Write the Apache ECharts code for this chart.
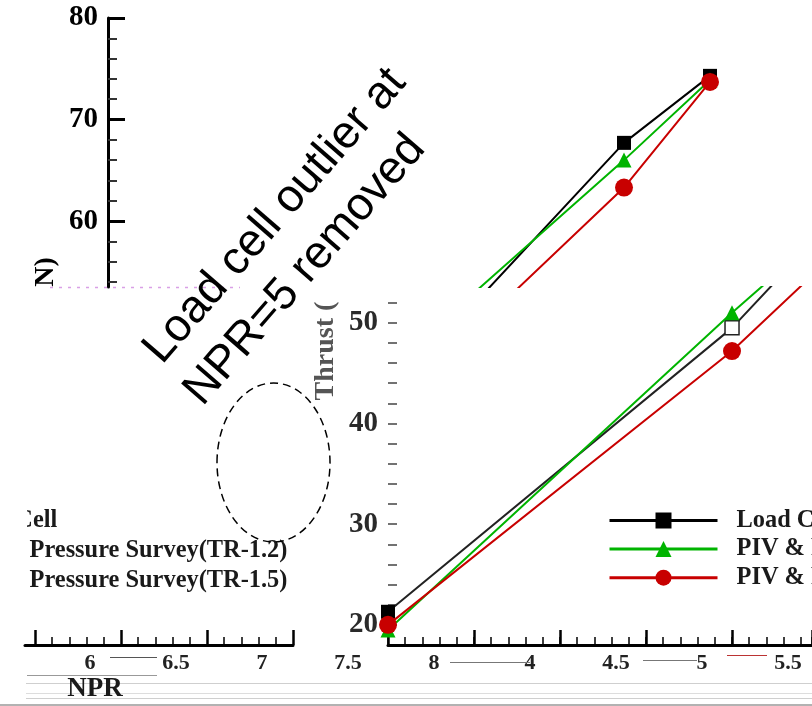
<!DOCTYPE html>
<html><head><meta charset="utf-8">
<script src="https://cdn.jsdelivr.net/npm/echarts@6/dist/echarts.min.js"></script>
<style>html,body{margin:0;padding:0;background:#fff}#c{width:812px;height:706px}</style>
</head><body><div id="c"></div>
<script>
// ---- data ----
const npr = [3, 5, 6, 6.5];
const loadCell = [21.3, 49.5, 67.7, 74.3];
const pivTR12 = [19.5, 51.0, 66.0, 73.9];
const pivTR15 = [20.0, 47.2, 63.3, 73.7];
const seriesNames = ['Load Cell', 'PIV & Pressure Survey(TR-1.2)', 'PIV & Pressure Survey(TR-1.5)'];
const topYLabels = [60, 70, 80];
const topYMinorTicks = [54, 56, 58, 62, 64, 66, 68, 72, 74, 76, 78];
const bottomYLabels = [20, 30, 40, 50];
const bottomYTicks = [20, 22, 24, 26, 28, 30, 32, 34, 36, 38, 40, 42, 44, 46, 48, 50, 52];
const leftXMajor = [6.5, 7, 7.5, 8];
const leftXMinor = [6.6, 6.7, 6.8, 6.9, 7.1, 7.2, 7.3, 7.4, 7.6, 7.7, 7.8, 7.9];
const stripLabelsLeft = [6, 6.5, 7, 7.5, 8];
const stripLabelsRight = [4, 4.5, 5, 5.5];
const annotation = ['Load cell outlier at', 'NPR=5 removed'];

const serif = 'Liberation Serif';
const colors = ['#000000', '#00b400', '#c80000'];
const symbols = ['rect', 'triangle', 'circle'];
const symSizes = [14, 15, 18];
const values = [loadCell, pivTR12, pivTR15];

const chart = echarts.init(document.getElementById('c'), null, {renderer: 'canvas'});

const hidden = {show: false};
function hideAxis(extra) {
  return Object.assign({type: 'value', axisLine: hidden, axisTick: hidden, axisLabel: hidden, splitLine: hidden}, extra);
}

const series = [];
[0, 1].forEach(panel => {
  values.forEach((vals, k) => {
    series.push({
      type: 'line',
      name: seriesNames[k],
      xAxisIndex: panel === 0 ? 0 : 1,
      yAxisIndex: panel === 0 ? 0 : 2,
      clip: true,
      symbol: symbols[k],
      symbolSize: symSizes[k],
      showAllSymbol: true,
      lineStyle: {color: panel === 1 && k === 0 ? '#222' : colors[k], width: 2},
      itemStyle: {color: colors[k]},
      z: 3 + k,
      data: npr.map((x, i) => (panel === 1 && k === 0 && i === 1)
        ? {value: [x, vals[i]], itemStyle: {color: '#fff', borderColor: '#222', borderWidth: 1.5}}
        : [x, vals[i]])
    });
  });
});

const stripLabelStyle = {
  fontFamily: serif, fontWeight: 'bold', fontSize: 22, color: '#222',
  textShadowColor: 'rgba(220,0,0,0.85)', textShadowOffsetX: -1.5, textShadowBlur: 0
};

const legendBase = {
  orient: 'vertical', itemWidth: 108, itemHeight: 20,
  data: seriesNames, selectedMode: false,
  lineStyle: {width: 3},
  textStyle: {fontFamily: serif, fontWeight: 'bold', fontSize: 24.4, color: '#1a1a1a', lineHeight: 20, padding: [0, 0, 0, 14]}
};

function glitchLine(x1, x2, y, color) {
  return {type: 'line', z: 90, shape: {x1: x1, y1: y, x2: x2, y2: y}, style: {stroke: color, lineWidth: 1}};
}

const option = {
  animation: false,
  backgroundColor: '#fff',
  grid: [
    {left: 108, top: 18, width: 704, height: 269},
    {left: 388, top: 287, width: 424, height: 358},
    {left: 25, top: 500, width: 268, height: 145},
    {left: 0, top: 600, width: 470, height: 50},
    {left: 470, top: 600, width: 342, height: 50}
  ],
  xAxis: [
    hideAxis({gridIndex: 0, min: 3, max: 7.093}),
    {type: 'value', gridIndex: 1, position: 'bottom', min: 3, max: 5.465, interval: 0.5,
      axisLine: {show: true, lineStyle: {color: '#000', width: 3}},
      axisTick: {show: true, inside: true, length: 15, lineStyle: {color: '#000', width: 2.5}},
      axisLabel: hidden, splitLine: hidden},
    {type: 'value', gridIndex: 1, position: 'bottom', min: 3, max: 5.465, interval: 0.1,
      axisLine: hidden,
      axisTick: {show: true, inside: true, length: 8, lineStyle: {color: '#000', width: 1.5}},
      axisLabel: hidden, splitLine: hidden},
    {type: 'value', gridIndex: 2, position: 'bottom', min: 6.442, max: 8,
      axisLine: {show: true, lineStyle: {color: '#000', width: 3}},
      axisTick: {show: true, inside: true, length: 15, customValues: leftXMajor, lineStyle: {color: '#000', width: 2.5}},
      axisLabel: hidden, splitLine: hidden},
    {type: 'value', gridIndex: 2, position: 'bottom', min: 6.442, max: 8,
      axisLine: hidden,
      axisTick: {show: true, inside: true, length: 8, customValues: leftXMinor, lineStyle: {color: '#000', width: 1.5}},
      axisLabel: hidden, splitLine: hidden},
    {type: 'value', gridIndex: 3, position: 'bottom', min: 5.477, max: 8.21,
      axisLine: hidden, axisTick: hidden, splitLine: hidden,
      axisLabel: Object.assign({show: true, margin: 2, customValues: stripLabelsLeft}, stripLabelStyle)},
    {type: 'value', gridIndex: 4, position: 'bottom', min: 3.651, max: 5.639,
      axisLine: hidden, axisTick: hidden, splitLine: hidden,
      axisLabel: Object.assign({show: true, margin: 2, customValues: stripLabelsRight}, stripLabelStyle)}
  ],
  yAxis: [
    {type: 'value', gridIndex: 0, position: 'left', min: 53.5, max: 80,
      axisLine: {show: true, lineStyle: {color: '#000', width: 3}},
      axisTick: {show: true, inside: true, length: 17, customValues: topYLabels, lineStyle: {color: '#000', width: 3}},
      axisLabel: {show: true, margin: 10, customValues: topYLabels, fontFamily: serif, fontWeight: 'bold', fontSize: 29, color: '#000'},
      splitLine: hidden},
    {type: 'value', gridIndex: 0, position: 'left', min: 53.5, max: 80,
      axisLine: hidden,
      axisTick: {show: true, inside: true, length: 9, customValues: topYMinorTicks, lineStyle: {color: '#333', width: 2}},
      axisLabel: hidden, splitLine: hidden},
    {type: 'value', gridIndex: 1, position: 'left', min: 18, max: 53.56,
      axisLine: hidden,
      axisTick: {show: true, inside: true, length: 9, customValues: bottomYTicks, lineStyle: {color: '#444', width: 1.5}},
      axisLabel: {show: true, margin: 10, customValues: bottomYLabels, fontFamily: serif, fontWeight: 'bold', fontSize: 29, color: '#2a2a2a'},
      splitLine: hidden},
    hideAxis({gridIndex: 2}),
    hideAxis({gridIndex: 3}),
    hideAxis({gridIndex: 4})
  ],
  legend: [
    Object.assign({left: 603, top: 503.5, itemGap: 4.6}, legendBase),
    Object.assign({left: -178.5, top: 504, itemGap: 6.1}, legendBase)
  ],
  series: series,
  graphic: [
    {type: 'rect', z: 100, shape: {x: 0, y: 500, width: 27, height: 100}, style: {fill: '#fff'}},
    {type: 'text', z: 101, x: 275, y: 216, rotation: 0.855,
      style: {text: annotation[0], fontFamily: 'Liberation Sans', fontSize: 46, fill: '#000', align: 'center', verticalAlign: 'middle'}},
    {type: 'text', z: 101, x: 305, y: 270, rotation: 0.855,
      style: {text: annotation[1], fontFamily: 'Liberation Sans', fontSize: 46, fill: '#000', align: 'center', verticalAlign: 'middle'}},
    {type: 'ellipse', z: 101, shape: {cx: 273.5, cy: 462.5, rx: 56.5, ry: 79.5},
      style: {fill: 'none', stroke: '#000', lineWidth: 1.5, lineDash: [8, 5]}},
    {type: 'text', z: 101, x: 326, y: 351, rotation: Math.PI / 2,
      style: {text: 'Thrust (', fontFamily: serif, fontWeight: 'bold', fontSize: 28, fill: '#555', align: 'center', verticalAlign: 'middle'}},
    {type: 'text', z: 101, x: 46, y: 272, rotation: Math.PI / 2,
      style: {text: 'N)', fontFamily: serif, fontWeight: 'bold', fontSize: 28, fill: '#000', align: 'center', verticalAlign: 'middle'}},
    {type: 'text', z: 101, x: 95, y: 689,
      style: {text: 'NPR', fontFamily: serif, fontWeight: 'bold', fontSize: 27, fill: '#1a1a1a', align: 'center', verticalAlign: 'middle',
        textShadowColor: 'rgba(220,0,0,0.85)', textShadowOffsetX: -1.5}},
    {type: 'line', z: 90, shape: {x1: 50, y1: 287.5, x2: 240, y2: 287.5}, style: {stroke: '#d9a0e6', lineWidth: 1.5, lineDash: [3, 6]}},
    glitchLine(26, 812, 683.5, '#cfcfcf'),
    glitchLine(26, 812, 693.5, '#dddddd'),
    glitchLine(26, 812, 698.5, '#cfcfcf'),
    glitchLine(27, 157, 675.5, '#999'),
    glitchLine(110, 157, 657.5, '#555'),
    glitchLine(450, 530, 662.5, '#777'),
    glitchLine(643, 697, 660.5, '#777'),
    glitchLine(727, 767, 655.5, '#b33'),
    {type: 'line', z: 90, shape: {x1: 0, y1: 705, x2: 812, y2: 705}, style: {stroke: '#999', lineWidth: 1.5}}
  ]
};
chart.setOption(option);
</script>
</body></html>
